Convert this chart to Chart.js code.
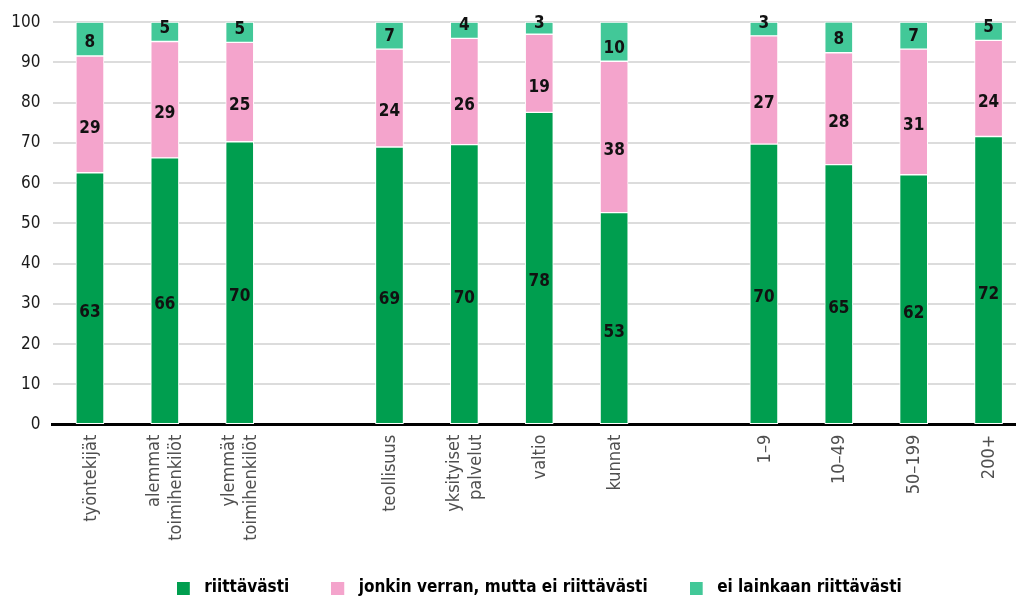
<!DOCTYPE html>
<html>
<head>
<meta charset="utf-8">
<script src="https://cdn.jsdelivr.net/npm/chart.js@4.4.1/dist/chart.umd.min.js"></script>
<style>
html, body { margin: 0; padding: 0; background: #fff; overflow: hidden; }
#wrap { width: 1016px; height: 600px; overflow: hidden; position: relative; }
#box { width: 1026px; height: 600px; position: absolute; left: 0; top: 0; }
</style>
</head>
<body>
<div id="wrap"><div id="box"><canvas id="c"></canvas></div></div>
<script>
// ---- data ----
const categories = [
  ['työntekijät'], ['alemmat', 'toimihenkilöt'], ['ylemmät', 'toimihenkilöt'], [''],
  ['teollisuus'], ['yksityiset', 'palvelut'], ['valtio'], ['kunnat'], [''],
  ['1–9'], ['10–49'], ['50–199'], ['200+']
];
const seriesNames = ['riittävästi', 'jonkin verran, mutta ei riittävästi', 'ei lainkaan riittävästi'];
const riittavasti  = [62.6, 66.3, 70.3, null, 69.0, 69.6, 77.6, 52.7, null, 69.7, 64.6, 62.1, 71.6];
const jonkinVerran = [29.0, 28.9, 24.7, null, 24.3, 26.4, 19.4, 37.6, null, 26.9, 27.8, 31.2, 23.9];
const eiLainkaan   = [8.4, 4.8, 5.0, null, 6.7, 4.0, 3.0, 9.7, null, 3.4, 7.7, 6.7, 4.5];
const yTicks = [0, 10, 20, 30, 40, 50, 60, 70, 80, 90, 100];

// ---- style ----
const colors = ['#009e4f', '#f4a4cc', '#42c898'];
const FONT = "'DejaVu Sans Condensed', 'Liberation Sans Narrow', sans-serif";

function swatch(color) {
  const c = document.createElement('canvas');
  c.width = 19; c.height = 13;
  const g = c.getContext('2d');
  g.fillStyle = color;
  g.fillRect(0, 0, 13, 13);
  return c;
}
const swatches = colors.map(swatch);

const valueLabels = {
  id: 'valueLabels',
  afterDatasetsDraw(chart) {
    const ctx = chart.ctx;
    ctx.save();
    ctx.font = "bold 17px " + FONT;
    ctx.fillStyle = '#111';
    ctx.textAlign = 'center';
    ctx.textBaseline = 'middle';
    chart.data.datasets.forEach((ds, di) => {
      const meta = chart.getDatasetMeta(di);
      meta.data.forEach((el, i) => {
        const v = ds.data[i];
        if (v == null) return;
        const p = el.getProps(['x', 'y', 'base'], true);
        let ty;
        if (di === 2) ty = Math.max(p.base - 13, 24);
        else ty = (p.y + p.base) / 2 + 14;
        ctx.fillText(String(Math.round(v)), p.x, ty);
      });
    });
    ctx.restore();
  }
};

const xLabels = {
  id: 'xLabels',
  afterDraw(chart) {
    const ctx = chart.ctx;
    const sx = chart.scales.x;
    const top = chart.chartArea.bottom + 10;
    ctx.save();
    ctx.font = "18px " + FONT;
    ctx.fillStyle = '#505050';
    ctx.textAlign = 'right';
    ctx.textBaseline = 'middle';
    categories.forEach((lines, i) => {
      const x = sx.getPixelForValue(i);
      const n = lines.length;
      lines.forEach((line, li) => {
        const off = (li - (n - 1) / 2) * 22 + 1;
        ctx.save();
        ctx.translate(x + off, top);
        ctx.rotate(-Math.PI / 2);
        ctx.fillText(line, 0, 0);
        ctx.restore();
      });
    });
    ctx.restore();
  }
};

const datasets = [riittavasti, jonkinVerran, eiLainkaan].map((arr, k) => ({
  label: seriesNames[k],
  data: arr,
  backgroundColor: colors[k],
  borderColor: '#ffffff',
  borderWidth: 1,
  borderSkipped: false,
  barThickness: 28
}));

new Chart(document.getElementById('c'), {
  type: 'bar',
  data: { labels: categories.map(l => l.join(' ')), datasets },
  options: {
    responsive: true,
    maintainAspectRatio: false,
    animation: false,
    layout: { padding: { top: 20, right: 0, left: 0, bottom: -6.5 } },
    scales: {
      x: {
        stacked: true,
        z: 1,
        grid: { display: false },
        border: { display: true, color: '#000', width: 3 },
        ticks: { display: false },
        afterFit(s) { s.height = 112.8; }
      },
      y: {
        stacked: true,
        min: 0, max: 100,
        afterBuildTicks(s) { s.ticks = yTicks.map(v => ({ value: v })); },
        grid: { color: '#dcdcdc', lineWidth: 2, drawTicks: false },
        border: { display: false },
        ticks: { padding: 12, color: '#1a1a1a', font: { family: FONT, size: 17 } },
        afterFit(s) { s.width = 52.5; }
      }
    },
    plugins: {
      legend: {
        position: 'bottom',
        fullSize: false,
        labels: {
          usePointStyle: true,
          pointStyleWidth: 19,
          padding: 42,
          color: '#000',
          font: { family: FONT, size: 17, weight: 'bold' },
          generateLabels(chart) {
            const items = Chart.defaults.plugins.legend.labels.generateLabels(chart);
            return items.map((it, i) => Object.assign({}, it, { pointStyle: swatches[i], lineWidth: 0 }));
          }
        }
      },
      tooltip: { enabled: false }
    }
  },
  plugins: [valueLabels, xLabels]
});
</script>
</body>
</html>
